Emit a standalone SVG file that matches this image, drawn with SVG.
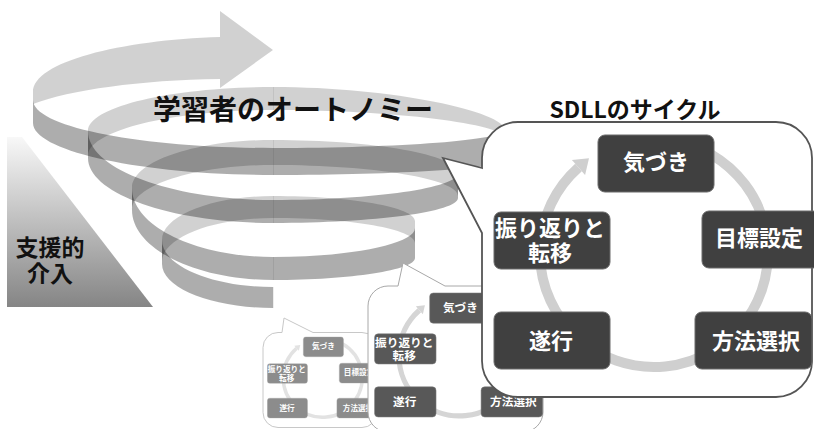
<svg xmlns="http://www.w3.org/2000/svg" width="814" height="429" viewBox="0 0 814 429">
  <defs>
    <linearGradient id="supportFade" x1="0" y1="0" x2="0" y2="1">
      <stop offset="0" stop-color="#f8f8f8"/>
      <stop offset="1" stop-color="#858585"/>
    </linearGradient>
    <style>
      .back { fill: #000; fill-opacity: 0.18; }
      .front { fill: #000; fill-opacity: 0.32; }
      .seam { stroke: #000; stroke-opacity: 0.07; stroke-width: 1; }
      .heading { font-family: "Noto Sans CJK JP", "Noto Sans", sans-serif; font-weight: bold; fill: #111; }
      .callout { fill: #fff; }
      .ring { fill: none; stroke: #cfcfcf; stroke-width: 10; }
      .ring-head { fill: #cfcfcf; }
      .node rect { fill: #404040; stroke: #6a6a6a; stroke-width: 1; }
      .node text { font-family: "Noto Sans CJK JP", "Noto Sans", sans-serif; font-size: 22px; font-weight: bold; fill: #fff; text-anchor: middle; }
    </style>
  </defs>

  <rect width="814" height="429" fill="#fff"/>

  <!-- support wedge -->
  <g id="support">
    <polygon points="7,137 22,137 153,307 7,307" fill="url(#supportFade)"/>
    <text class="heading" font-size="23" text-anchor="middle"><tspan x="50" y="256">支援的</tspan><tspan x="50" y="282">介入</tspan></text>
  </g>

  <!-- rising spiral ribbon, bottom turn first -->
  <g id="spiral">
    <path class="front" d="M 273,287 C 212,287 162,266 162,240 L 162,264 C 162,288 212,308 273,308 Z"/>
    <path class="back" d="M 162,240 C 162,215.8 212,196 273,196 C 351,196 415,207.2 415,221 L 415,243 C 415,229.2 351,218 273,218 C 212,218 162,237.8 162,262 Z"/>
    <path class="front" d="M 415,228 C 415,244 351,257 273,257 C 195.5,257 132,226 132,188 L 132,210 C 132,248.5 195.5,280 273,280 C 351,280 415,270 415,258 Z"/>
    <path class="back" d="M 132,188 C 132,161.6 195.5,140 273,140 C 374.75,140 458,154.9 458,173 L 458,196 C 458,179 374.75,165 273,165 C 195.5,165 132,185.25 132,210 Z"/>
    <path class="front" d="M 458,173 C 458,187.85 374.75,200 273,200 C 171.25,200 88,169 88,131 L 88,158 C 88,193.75 171.25,223 273,223 C 374.75,223 458,211.75 458,198 Z"/>
    <path class="back" d="M 88,131 C 88,106.8 171.25,87 273,87 C 394,87 505,112 505,130 L 505,138 C 505,124 394,110 273,110 C 171.25,110 88,130.7 88,156 Z"/>
    <path class="front" d="M 505,130 C 505,140 400.6,148 273,148 C 141,148 33,127 33,100 L 33,123 C 33,151 141,175 273,175 C 400.6,175 505,168 505,160 Z"/>
    <path class="back" d="M 33,92 C 33,62 120,40 220,37 L 220,11 L 273,50 L 220,88 L 220,79 C 140,80 70,90 33,104 Z"/>
    <g class="seam">
      <line x1="273.5" y1="87" x2="273.5" y2="110"/>
      <line x1="273.5" y1="140" x2="273.5" y2="175"/>
      <line x1="273.5" y1="196" x2="273.5" y2="223"/>
      <line x1="273.5" y1="257" x2="273.5" y2="280"/>
      <line x1="273.5" y1="287" x2="273.5" y2="308"/>
    </g>
  </g>

  <text id="autonomy-title" class="heading" x="153" y="120" font-size="28">学習者のオートノミー</text>

  <!-- earliest, smallest cycle -->
  <g id="cycle-small">
    <path class="callout" d="M 282,332.5 L 284,318 L 313,332.5 H 362 A 15 15 0 0 1 377,347.5 V 412.5 A 15 15 0 0 1 362,427.5 H 278 A 15 15 0 0 1 263,412.5 V 347.5 A 15 15 0 0 1 278,332.5 Z" stroke="#c8c8c8" stroke-width="1"/>
    <g transform="translate(96.43,290.29) scale(0.346)" opacity="0.6">
      <path class="ring" d="M 711,154.3 A 114 114 0 1 1 578.5,167.6"/>
      <polygon class="ring-head" points="589,158.3 571.9,160.1 585.1,175.1"/>
      <g id="s-kizuki" class="node"><rect x="598" y="135" width="116" height="57" rx="7"/><text x="656" y="170">気づき</text></g>
      <g id="s-mokuhyo" class="node"><rect x="702" y="211" width="116" height="57" rx="7"/><text x="759" y="246">目標設定</text></g>
      <g id="s-hoho" class="node"><rect x="695" y="312" width="116" height="57" rx="7"/><text x="756" y="348.5">方法選択</text></g>
      <g id="s-suiko" class="node"><rect x="494" y="312" width="116" height="57" rx="7"/><text x="551" y="348.5">遂行</text></g>
      <g id="s-furikaeri" class="node"><rect x="494" y="212" width="116" height="57" rx="7"/><text><tspan x="550" y="236">振り返りと</tspan><tspan x="550" y="261">転移</tspan></text></g>
    </g>
  </g>

  <!-- middle cycle -->
  <g id="cycle-medium">
    <path class="callout" d="M 398,286 L 403,263 L 445,286 H 523 A 20 20 0 0 1 543,306 V 412 A 20 20 0 0 1 523,432 H 388 A 20 20 0 0 1 368,412 V 306 A 20 20 0 0 1 388,286 Z" stroke="#a8a8a8" stroke-width="1"/>
    <g transform="translate(112.74,221.44) scale(0.53)" opacity="0.87">
      <path class="ring" d="M 711,154.3 A 114 114 0 1 1 578.5,167.6"/>
      <polygon class="ring-head" points="589,158.3 571.9,160.1 585.1,175.1"/>
      <g id="m-kizuki" class="node"><rect x="598" y="135" width="116" height="57" rx="7"/><text x="656" y="170">気づき</text></g>
      <g id="m-hoho" class="node"><rect x="695" y="312" width="116" height="57" rx="7"/><text x="756" y="348.5">方法選択</text></g>
      <g id="m-suiko" class="node"><rect x="494" y="312" width="116" height="57" rx="7"/><text x="551" y="348.5">遂行</text></g>
      <g id="m-furikaeri" class="node"><rect x="494" y="212" width="116" height="57" rx="7"/><text><tspan x="550" y="236">振り返りと</tspan><tspan x="550" y="261">転移</tspan></text></g>
    </g>
  </g>

  <!-- current SDLL cycle -->
  <g id="cycle-main">
    <path class="callout" d="M 482,168 L 443,158 L 482,233 V 361 A 36 36 0 0 0 518,397 H 776 A 36 36 0 0 0 812,361 V 158 A 36 36 0 0 0 776,122 H 518 A 36 36 0 0 0 482,158 Z" stroke="#555" stroke-width="1.8"/>
    <path class="ring" d="M 711,154.3 A 114 114 0 1 1 578.5,167.6"/>
    <polygon class="ring-head" points="589,158.3 571.9,160.1 585.1,175.1"/>
    <g id="kizuki" class="node"><rect x="598" y="135" width="116" height="57" rx="7"/><text x="656" y="170">気づき</text></g>
    <g id="mokuhyo" class="node"><rect x="702" y="211" width="118" height="57" rx="7"/><text x="759" y="246">目標設定</text></g>
    <g id="hoho" class="node"><rect x="695" y="312" width="117" height="57" rx="7"/><text x="756" y="348.5">方法選択</text></g>
    <g id="suiko" class="node"><rect x="494" y="312" width="116" height="57" rx="7"/><text x="551" y="348.5">遂行</text></g>
    <g id="furikaeri" class="node"><rect x="494" y="212" width="116" height="57" rx="7"/><text><tspan x="550" y="236">振り返りと</tspan><tspan x="550" y="261">転移</tspan></text></g>
  </g>

  <text id="cycle-title" class="heading" x="635" y="118" font-size="23" text-anchor="middle">SDLLのサイクル</text>
</svg>
